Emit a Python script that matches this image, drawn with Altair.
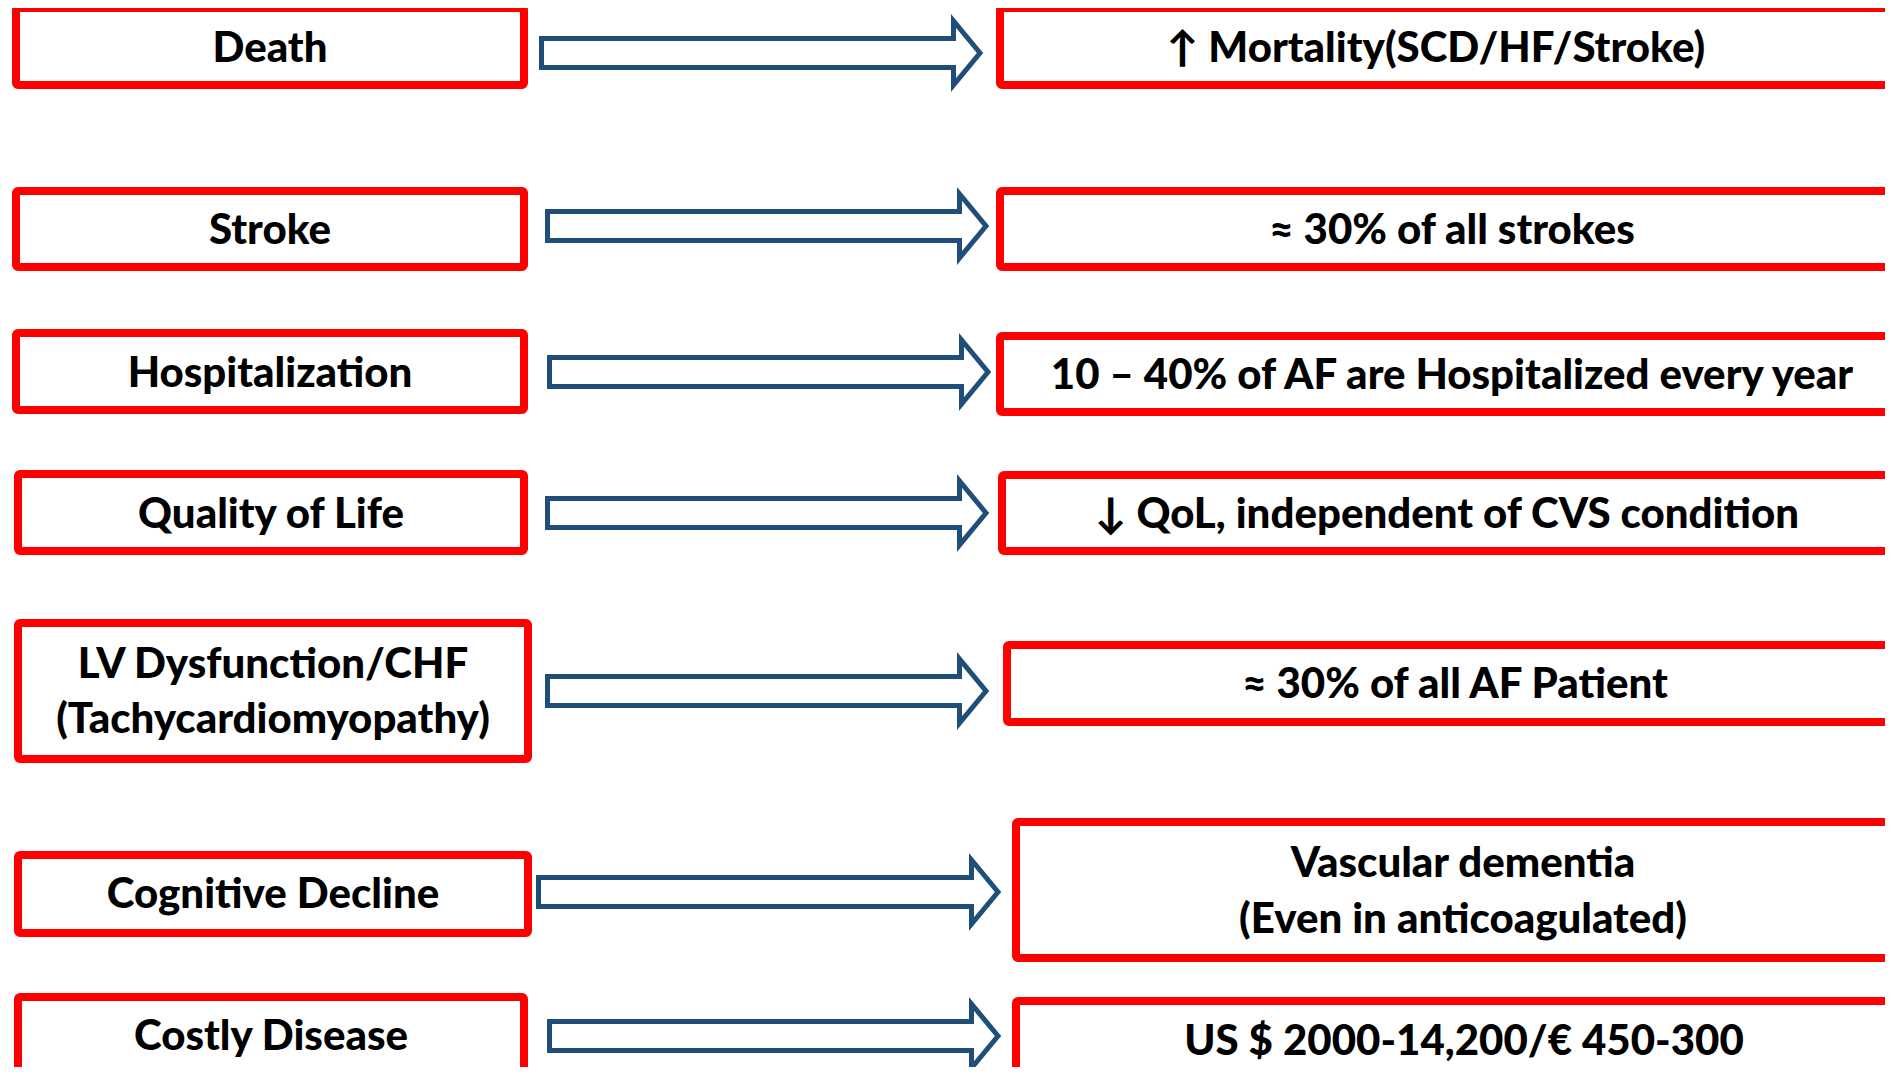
import altair as alt
import pandas as pd

# ---- content ----
causes = [
    ["Death"],
    ["Stroke"],
    ["Hospitalization"],
    ["Quality of Life"],
    ["LV Dysfunction/CHF", "(Tachycardiomyopathy)"],
    ["Cognitive Decline"],
    ["Costly Disease"],
]
effects = [
    ["↑ Mortality(SCD/HF/Stroke)"],
    ["≈ 30% of all strokes"],
    ["10 – 40% of AF are Hospitalized every year"],
    ["↓ QoL, independent of CVS condition"],
    ["≈ 30% of all AF Patient"],
    ["Vascular dementia", "(Even in anticoagulated)"],
    ["US $ 2000-14,200/€ 450-300"],
]

# ---- layout (page pixel coordinates) ----
left_x1 = [12, 12, 12, 14, 14, 14, 14]
left_x2 = [528, 528, 528, 528, 532, 532, 528]
left_y1 = [4, 187, 329, 470, 619, 851, 993]
left_y2 = [89, 271, 414, 555, 763, 937, 1090]
left_base = [[62], [244], [387], [528], [678, 733], [908], [1050]]

right_x1 = [996, 996, 996, 998, 1003, 1012, 1012]
right_y1 = [4, 187, 332, 471, 641, 818, 997]
right_y2 = [89, 271, 416, 555, 726, 962, 1090]
right_cx = [1436, 1452, 1452, 1447, 1455, 1463, 1464]
right_base = [[62], [244], [389], [528], [698], [877, 933], [1055]]

arrow_tail = [539, 545, 547, 545, 545, 536, 547]
arrow_tip = [984, 990, 992, 990, 990, 1002, 1002]
arrow_cy = [53, 226, 372, 513, 691, 892, 1036]

W, H = 1877, 1059
X0, Y0 = 8, 8
BW = 8  # box border width
AW = 5  # arrow stroke width

rows = []
for i in range(len(causes)):
    rows.append(dict(x=left_x1[i] + BW / 2, x2=left_x2[i] - BW / 2,
                     y=left_y1[i] + BW / 2, y2=left_y2[i] - BW / 2))
    rows.append(dict(x=right_x1[i] + BW / 2, x2=1940,
                     y=right_y1[i] + BW / 2, y2=right_y2[i] - BW / 2))
boxes = pd.DataFrame(rows)

texts = []
for i in range(len(causes)):
    cx = (left_x1[i] + left_x2[i]) / 2
    for line, b in zip(causes[i], left_base[i]):
        texts.append(dict(x=cx, y=b, t=line))
    for line, b in zip(effects[i], right_base[i]):
        texts.append(dict(x=right_cx[i], y=b, t=line))
texts = pd.DataFrame(texts)

pts = []
h1, h2, L = 14.5, 32, 33
for i in range(len(causes)):
    x0 = arrow_tail[i] + AW / 2
    x1 = arrow_tip[i] - 4
    xh = arrow_tip[i] - L + AW / 2
    cy = arrow_cy[i]
    poly = [(x0, cy - h1), (xh, cy - h1), (xh, cy - h2), (x1, cy),
            (xh, cy + h2), (xh, cy + h1), (x0, cy + h1), (x0, cy - h1)]
    for k, (px, py) in enumerate(poly):
        pts.append(dict(a=i, o=k, x=px, y=py))
arrows = pd.DataFrame(pts)

xs = alt.Scale(domain=[X0, X0 + W], nice=False, zero=False)
ys = alt.Scale(domain=[Y0 + H, Y0], nice=False, zero=False)

box_layer = alt.Chart(boxes).mark_rect(
    fill="white", stroke="#FF0000", strokeWidth=BW, cornerRadius=2, clip=True
).encode(
    x=alt.X("x:Q", scale=xs, axis=None),
    x2="x2:Q",
    y=alt.Y("y:Q", scale=ys, axis=None),
    y2="y2:Q",
)

arrow_layer = alt.Chart(arrows).mark_line(
    stroke="#1F4E79", strokeWidth=AW, strokeJoin="miter", strokeCap="square", clip=True
).encode(
    x=alt.X("x:Q", scale=xs, axis=None),
    y=alt.Y("y:Q", scale=ys, axis=None),
    detail="a:N",
    order="o:Q",
)

text_layer = alt.Chart(texts).mark_text(
    font="Lato", fontWeight=900, fontSize=42, color="black",
    align="center", baseline="alphabetic", clip=True
).encode(
    x=alt.X("x:Q", scale=xs, axis=None),
    y=alt.Y("y:Q", scale=ys, axis=None),
    text="t:N",
)

chart = alt.layer(box_layer, arrow_layer, text_layer).properties(
    width=W, height=H, padding=0, background="white"
).configure_view(stroke=None)

chart.save("out.html", embed_options={"renderer": "svg", "actions": False})
